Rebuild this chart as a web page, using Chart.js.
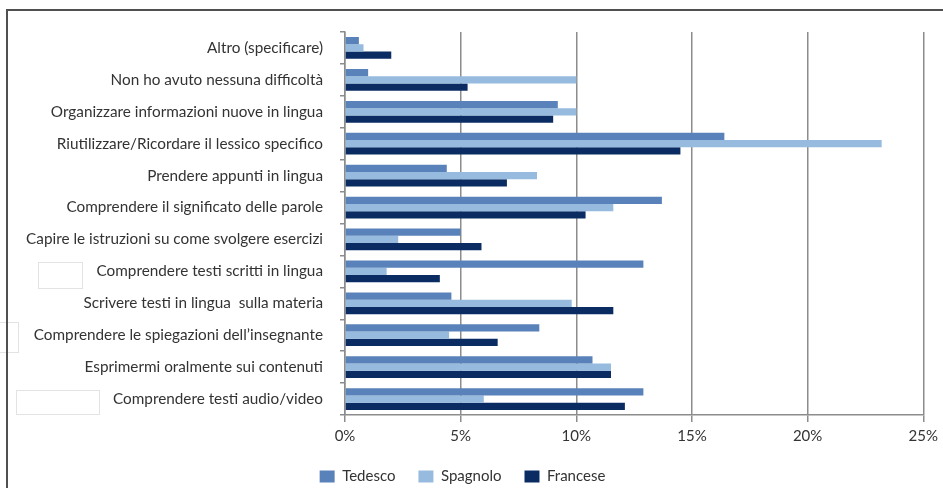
<!DOCTYPE html>
<html>
<head>
<meta charset="utf-8">
<script src="https://cdn.jsdelivr.net/npm/chart.js@4"></script>
<style>
  body { margin: 0; background: #fff; }
  #wrap { width: 943px; height: 488px; }
</style>
</head>
<body>
<div id="wrap"><canvas id="myChart" width="943" height="488"></canvas></div>
<script>
const categories = [
  "Altro (specificare)",
  "Non ho avuto nessuna difficoltà",
  "Organizzare informazioni nuove in lingua",
  "Riutilizzare/Ricordare il lessico specifico",
  "Prendere appunti in lingua",
  "Comprendere il significato delle parole",
  "Capire le istruzioni su come svolgere esercizi",
  "Comprendere testi scritti in lingua",
  "Scrivere testi in lingua  sulla materia",
  "Comprendere le spiegazioni dell\u2019insegnante",
  "Esprimermi oralmente sui contenuti",
  "Comprendere testi audio/video",
];
const tedesco = [0.6, 1.0, 9.2, 16.4, 4.4, 13.7, 5.0, 12.9, 4.6, 8.4, 10.7, 12.9];
const spagnolo = [0.8, 10.0, 10.0, 23.2, 8.3, 11.6, 2.3, 1.8, 9.8, 4.5, 11.5, 6.0];
const francese = [2.0, 5.3, 9.0, 14.5, 7.0, 10.4, 5.9, 4.1, 11.6, 6.6, 11.5, 12.1];
const xTicks = [0, 5, 10, 15, 20, 25];

const gridGray = "#8c8c8c";
const textGray = "#333333";

Chart.defaults.font.family = "Lato, 'Open Sans', sans-serif";
Chart.defaults.font.size = 15;
Chart.defaults.color = textGray;

// frame lines + faint leftover boxes from the original picture
const framePlugin = {
  id: "frame",
  afterDraw(chart) {
    const c = chart.ctx;
    c.save();
    c.strokeStyle = "#e3e3e3";
    c.lineWidth = 1;
    c.strokeRect(38.5, 262.5, 44, 26);
    c.strokeRect(16.5, 390.5, 83, 24);
    c.strokeRect(-1.5, 322.5, 20, 30);
    c.strokeStyle = "#505050";
    c.lineWidth = 2;
    c.beginPath();
    c.moveTo(7, 488);
    c.lineTo(7, 10);
    c.lineTo(943, 10);
    c.stroke();
    c.restore();
  },
};

new Chart(document.getElementById("myChart"), {
  type: "bar",
  data: {
    labels: categories,
    datasets: [
      { label: "Tedesco", data: tedesco, backgroundColor: "#5a82ba" },
      { label: "Spagnolo", data: spagnolo, backgroundColor: "#96bbdf" },
      { label: "Francese", data: francese, backgroundColor: "#0a2c63" },
    ],
  },
  options: {
    indexAxis: "y",
    responsive: false,
    animation: false,
    categoryPercentage: 0.68,
    barPercentage: 1,
    layout: { padding: { top: 32, right: 18, left: 0, bottom: -6 } },
    plugins: {
      tooltip: { enabled: false },
      legend: {
        position: "bottom",
        labels: {
          boxWidth: 15,
          boxHeight: 12,
          padding: 23,
          font: { size: 15 },
          color: textGray,
        },
      },
    },
    scales: {
      x: {
        min: 0,
        max: 25,
        afterBuildTicks(scale) {
          scale.ticks = xTicks.map((v) => ({ value: v }));
        },
        afterFit(scale) {
          scale.height = 31;
        },
        ticks: {
          padding: 5,
          color: textGray,
          font: { size: 15 },
          callback: (v) => v + "%",
        },
        grid: { color: gridGray, lineWidth: 1.5, tickLength: 7 },
        border: { color: gridGray, width: 1.5 },
      },
      y: {
        afterFit(scale) {
          scale.width = 345;
        },
        ticks: { padding: 17, color: textGray, autoSkip: false, font: { size: 15.3 } },
        grid: { drawOnChartArea: false, color: gridGray, lineWidth: 1.5, tickLength: 5 },
        border: { color: gridGray, width: 1.5 },
      },
    },
  },
  plugins: [framePlugin],
});
</script>
</body>
</html>
